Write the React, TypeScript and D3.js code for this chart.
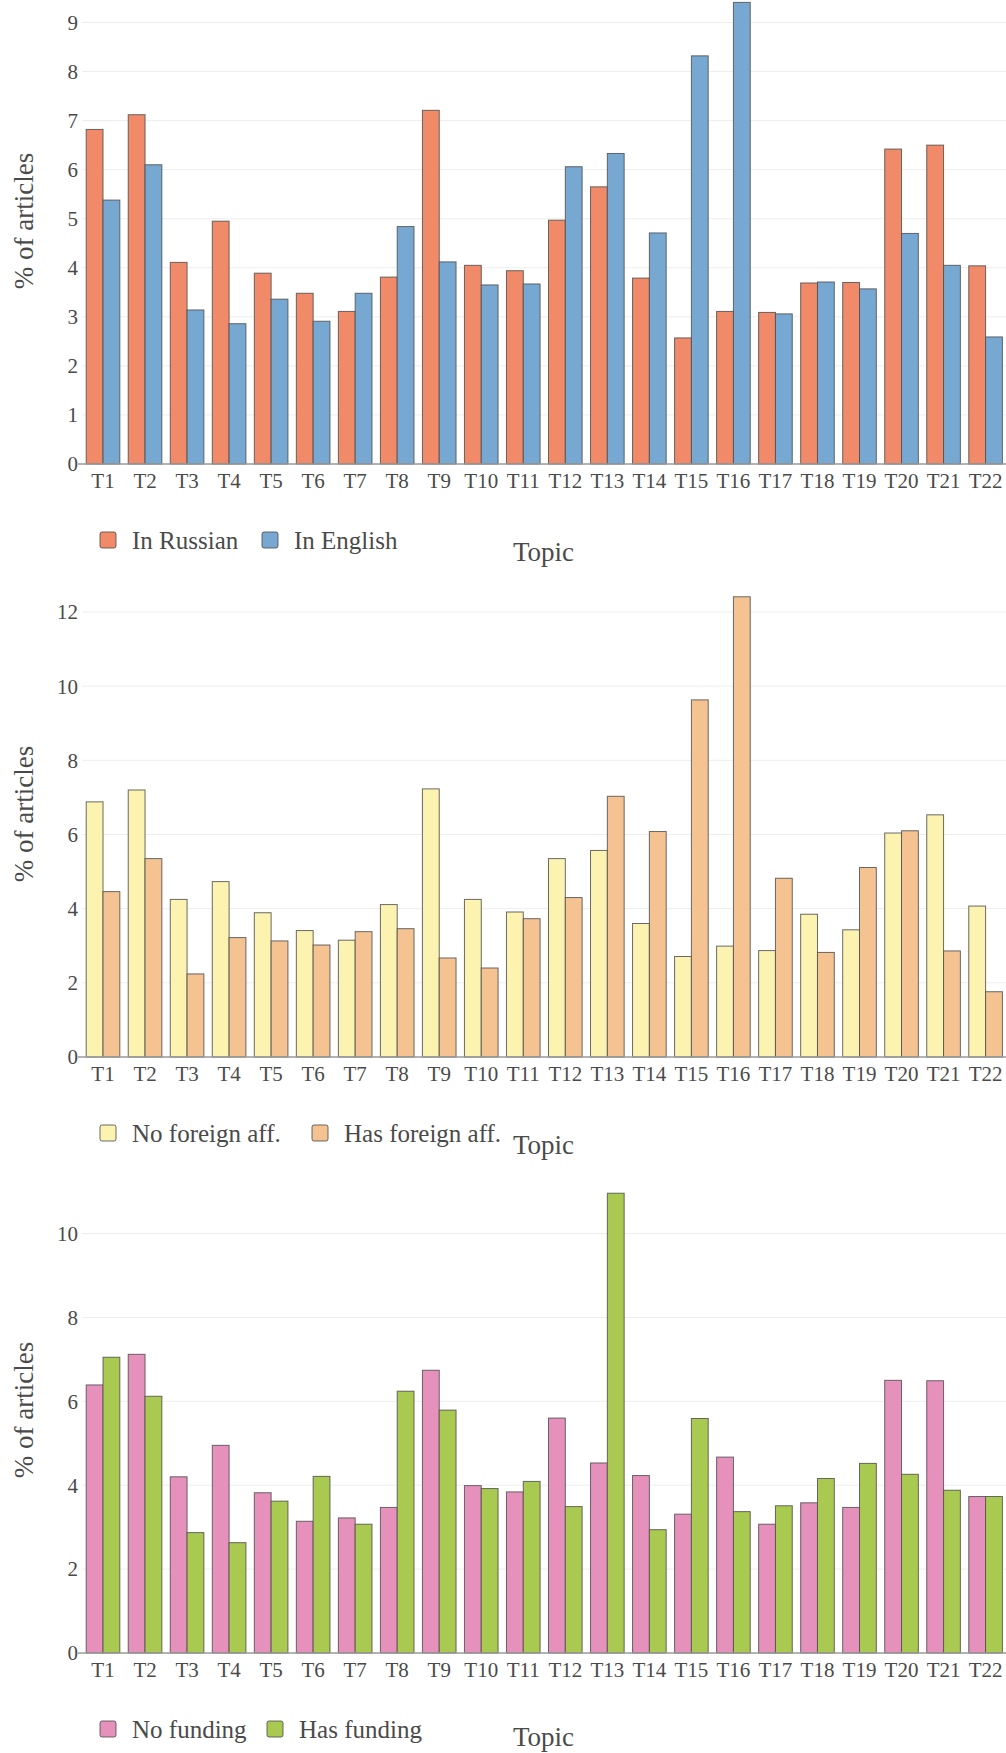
import React from "react";
import * as d3 from "d3";

const topics = ["T1","T2","T3","T4","T5","T6","T7","T8","T9","T10","T11","T12","T13","T14","T15","T16","T17","T18","T19","T20","T21","T22"];

const inRussian = [6.82,7.12,4.11,4.95,3.89,3.48,3.11,3.81,7.21,4.05,3.94,4.97,5.65,3.79,2.57,3.11,3.09,3.69,3.70,6.42,6.50,4.04];
const inEnglish = [5.38,6.10,3.14,2.86,3.36,2.91,3.48,4.84,4.12,3.65,3.67,6.06,6.33,4.71,8.32,9.41,3.06,3.71,3.57,4.70,4.05,2.59];

const noForeignAff = [6.88,7.20,4.25,4.73,3.89,3.41,3.15,4.11,7.23,4.25,3.91,5.35,5.57,3.60,2.71,2.99,2.87,3.85,3.43,6.04,6.53,4.07];
const hasForeignAff = [4.46,5.35,2.24,3.22,3.13,3.02,3.38,3.46,2.67,2.40,3.73,4.30,7.03,6.08,9.63,12.41,4.82,2.82,5.11,6.10,2.86,1.76];

const noFunding = [6.39,7.12,4.20,4.95,3.82,3.14,3.22,3.47,6.74,3.99,3.84,5.60,4.53,4.23,3.31,4.67,3.07,3.58,3.47,6.50,6.49,3.73];
const hasFunding = [7.05,6.12,2.87,2.63,3.62,4.21,3.07,6.24,5.79,3.92,4.09,3.49,10.96,2.94,5.59,3.37,3.51,4.16,4.52,4.26,3.88,3.73];

const ticks1 = [0,1,2,3,4,5,6,7,8,9];
const ticks2 = [0,2,4,6,8,10,12];
const ticks3 = [0,2,4,6,8,10];

const legend1 = ["In Russian", "In English"];
const legend2 = ["No foreign aff.", "Has foreign aff."];
const legend3 = ["No funding", "Has funding"];

const FONT = "'Liberation Serif', 'Times New Roman', serif";
const TEXT = "#4a4a4a";

type Cfg = {
  a: number[]; b: number[]; ticks: number[]; legend: string[];
  colors: string[]; y0: number; yTop: number; tTop: number; leg2x: number; topicDy: number;
};

const charts: Cfg[] = [
  { a: inRussian, b: inEnglish, ticks: ticks1, legend: legend1, colors: ["#F08A68", "#77A8D2"], y0: 464, yTop: 22.5, tTop: 9, leg2x: 262, topicDy: 97 },
  { a: noForeignAff, b: hasForeignAff, ticks: ticks2, legend: legend2, colors: ["#FDF3B1", "#F4C391"], y0: 1057, yTop: 612, tTop: 12, leg2x: 312, topicDy: 97 },
  { a: noFunding, b: hasFunding, ticks: ticks3, legend: legend3, colors: ["#E690BC", "#A9C950"], y0: 1653, yTop: 1233.5, tTop: 10, leg2x: 267, topicDy: 93 },
];

const X0 = 82, X1 = 1006.6;

function Chart({ c }: { c: Cfg }) {
  const x = d3.scaleBand().domain(topics).range([X0, X1]).paddingInner(0.2).paddingOuter(0.1);
  const xs = d3.scaleBand().domain(["a", "b"]).range([0, x.bandwidth()]);
  const y = d3.scaleLinear().domain([0, c.tTop]).range([c.y0, c.yTop]);
  const plotTop = c.y0 - 486;
  const series = [c.a, c.b];
  return (
    <g>
      {c.ticks.map((t) => (
        <g key={t}>
          {t > 0 && <line x1={X0} x2={X1} y1={y(t)} y2={y(t)} stroke="#eeeeee" strokeWidth={1} />}
          <text x={78} y={y(t)} dy="0.35em" textAnchor="end" fontSize={21} fill={TEXT} fontFamily={FONT}>{t}</text>
        </g>
      ))}
      {series.map((s, si) =>
        s.map((v, i) => (
          <rect key={si + "-" + i}
            x={(x(topics[i]) as number) + (xs(si === 0 ? "a" : "b") as number)}
            y={y(v)} width={xs.bandwidth()} height={c.y0 - y(v)}
            fill={c.colors[si]} stroke="#505050" strokeOpacity={0.85} strokeWidth={1} />
        ))
      )}
      <line x1={X0 - 4} x2={X1} y1={c.y0} y2={c.y0} stroke="#9a9a9a" strokeWidth={1.5} />
      {topics.map((t) => (
        <text key={t} x={(x(t) as number) + x.bandwidth() / 2} y={c.y0 + 24} textAnchor="middle" fontSize={21} fill={TEXT} fontFamily={FONT}>{t}</text>
      ))}
      <text transform={`translate(33,${(plotTop + c.y0) / 2}) rotate(-90)`} textAnchor="middle" fontSize={27} fill={TEXT} fontFamily={FONT}>% of articles</text>
      {[0, 1].map((k) => {
        const sx = k === 0 ? 100 : c.leg2x;
        return (
          <g key={k}>
            <rect x={sx} y={c.y0 + 68} width={16} height={16} rx={2} fill={c.colors[k]} stroke="#505050" strokeOpacity={0.85} strokeWidth={1} />
            <text x={sx + 32} y={c.y0 + 76} dy="0.35em" fontSize={25} fill={TEXT} fontFamily={FONT}>{c.legend[k]}</text>
          </g>
        );
      })}
      <text x={513} y={c.y0 + c.topicDy} fontSize={27} fill={TEXT} fontFamily={FONT}>Topic</text>
    </g>
  );
}

export default function App() {
  return (
    <div style={{ position: "absolute", left: 0, top: 0 }}>
      <svg width={1006} height={1753} style={{ display: "block", background: "#fff" }}>
        {charts.map((c, i) => <Chart key={i} c={c} />)}
      </svg>
    </div>
  );
}
